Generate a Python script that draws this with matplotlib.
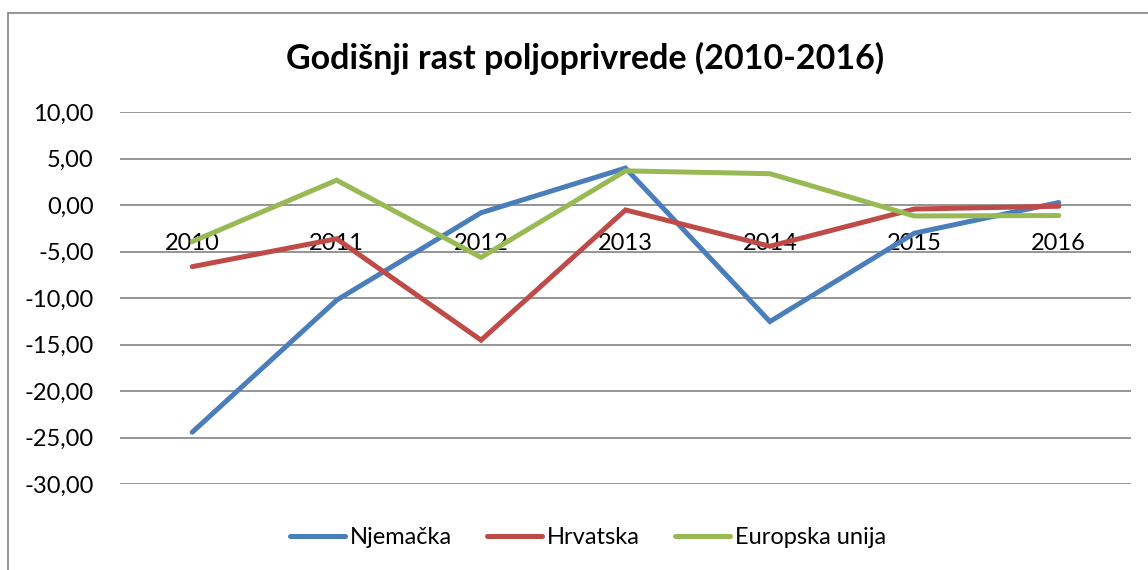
import matplotlib
matplotlib.use("Agg")
import matplotlib.pyplot as plt
from matplotlib.patches import Rectangle

years = ["2010", "2011", "2012", "2013", "2014", "2015", "2016"]
njemacka = [-24.4, -10.2, -0.8, 4.0, -12.5, -3.0, 0.3]
hrvatska = [-6.6, -3.6, -14.5, -0.5, -4.4, -0.4, -0.1]
eu = [-3.9, 2.7, -5.6, 3.7, 3.4, -1.15, -1.1]
series_names = ["Njemačka", "Hrvatska", "Europska unija"]
colors = ["#4A7EBB", "#BE4B48", "#98B954"]
yticks = [10, 5, 0, -5, -10, -15, -20, -25, -30]

plt.rcParams['font.family'] = ['Lato', 'DejaVu Sans']

fig = plt.figure(figsize=(11.48, 5.70), dpi=100)
W, H = 1148, 570
ax = fig.add_axes([120 / W, 1 - 484.3 / H, (1131 - 120) / W, (484.3 - 112.3) / H])

x = list(range(len(years)))
for vals, name, c in zip([njemacka, hrvatska, eu], series_names, colors):
    ax.plot(x, vals, color=c, lw=3.6, label=name, solid_capstyle='round', solid_joinstyle='miter', zorder=3)

ax.set_xlim(-0.5, len(years) - 0.5)
ax.set_ylim(-30, 10)
ax.set_yticks(yticks)
ax.set_yticklabels([f"{v:.2f}".replace('.', ',') for v in yticks], fontsize=17)
ax.yaxis.grid(True, color='#8C8C8C', lw=1.3)
ax.set_axisbelow(True)
ax.tick_params(axis='y', length=0, pad=19)
for s in ['left', 'right', 'top']:
    ax.spines[s].set_visible(False)
ax.spines['bottom'].set_position(('data', 0))
ax.spines['bottom'].set_color('none')
ax.set_xticks(x)
ax.set_xticklabels(years, fontsize=17)
ax.tick_params(axis='x', length=0, pad=20)

fig.text(585 / W, 1 - 58 / H, "Godišnji rast poljoprivrede (2010-2016)", ha='center', va='center',
         fontsize=24.5, fontweight='bold')

leg = fig.legend(loc='center', bbox_to_anchor=(588 / W, 1 - 538 / H), ncol=3, frameon=False,
                 fontsize=17, handlelength=2.33, columnspacing=1.5, handletextpad=0.2)

fig.patches.append(Rectangle((8 / W, -0.05), 1.2, 1 - 13 / H + 0.05, transform=fig.transFigure,
                             fill=False, edgecolor='#8C8C8C', lw=1.3))

fig.savefig("out.png", dpi=100)
